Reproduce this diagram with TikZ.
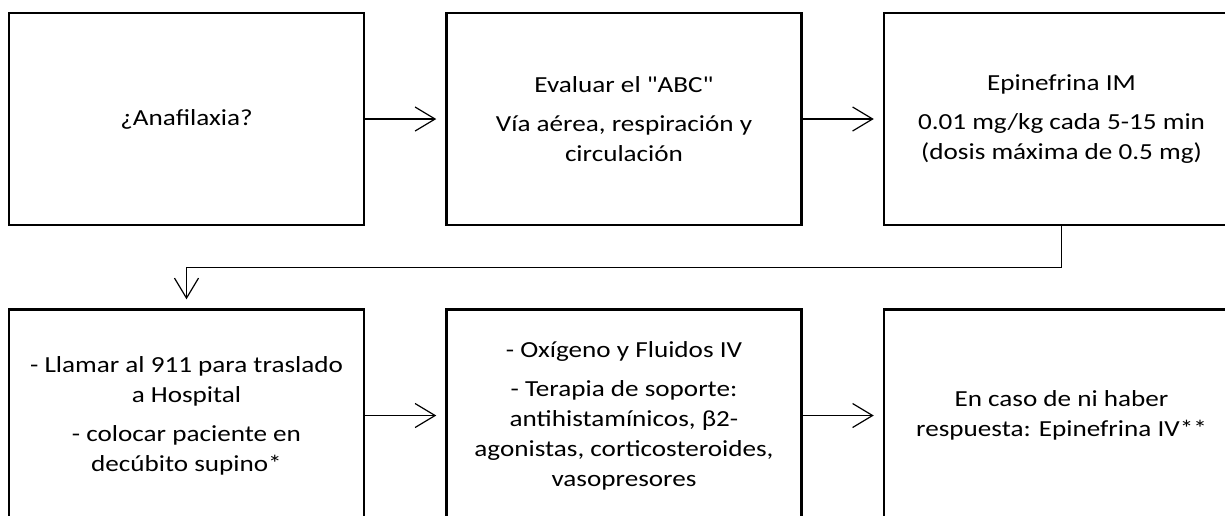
\documentclass[tikz,border=0pt]{standalone}
\usepackage{fontspec}
\setmainfont{Carlito}[FakeStretch=1.18, Ligatures=TeXOff]
\usetikzlibrary{positioning,calc,arrows.meta}

\begin{document}
\begin{tikzpicture}[x=1pt, y=-1pt, font=\fontsize{23}{30}\selectfont,
  box/.style={draw, line width=2.5pt, minimum width=355pt, minimum height=212pt, align=center, inner sep=0pt},
  link/.style={line width=1.2pt, -{Straight Barb[length=20pt, width=24pt, line width=1.2pt]}, shorten >=9pt}]
\useasboundingbox (0,0) rectangle (1225,515); \clip (0,0) rectangle (1225,515);
% top row
\node[box] (anaf) at (186.5,119) {¿Anafilaxia?};
\node[box, right=80pt of anaf] (abc) {Evaluar el "ABC"\\[9pt]Vía aérea, respiración y\\circulación};
\node[box, right=80pt of abc] (epi) {Epinefrina IM\\[9pt]0.01 mg/kg cada 5-15 min\\(dosis máxima de 0.5 mg)};
% bottom row
\node[box, below=82pt of anaf] (hosp) {- Llamar al 911 para traslado\\a Hospital\\[9pt]- colocar paciente en\\decúbito supino*};
\node[box, right=80pt of hosp] (soporte) {- Oxígeno y Fluidos IV\\[9pt]- Terapia de soporte:\\antihistamínicos, β2-\\agonistas, corticosteroides,\\vasopresores};
\node[box, right=80pt of soporte] (epiiv) {En caso de ni haber\\respuesta: Epinefrina IV**};
% connectors
\coordinate (turn) at ($(epi.south)!0.5!(hosp.north)$);
\draw[link] (anaf) -- (abc); \draw[link] (abc) -- (epi);
\draw[link] (epi.south) |- (turn) -| (hosp.north);
\draw[link] (hosp) -- (soporte); \draw[link] (soporte) -- (epiiv);
\end{tikzpicture}
\end{document}
